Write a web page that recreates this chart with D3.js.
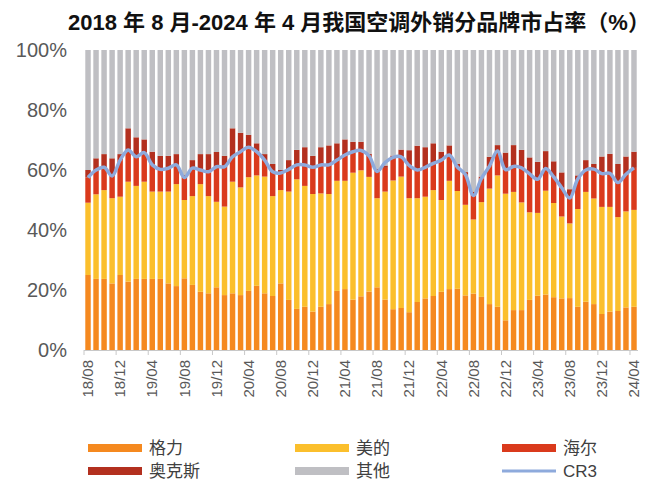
<!DOCTYPE html>
<html><head><meta charset="utf-8">
<script src="https://cdn.jsdelivr.net/npm/d3@7"></script>
<style>
html,body{margin:0;padding:0;background:#fff;}
svg{display:block;font-family:"Liberation Sans",Arial,"Noto Sans CJK SC",sans-serif;}
</style></head><body>
<svg id="c" width="660" height="500"></svg>
<script>
const months = ["18/08","18/09","18/10","18/11","18/12",
"19/01","19/02","19/03","19/04","19/05","19/06","19/07","19/08","19/09","19/10","19/11","19/12",
"20/01","20/02","20/03","20/04","20/05","20/06","20/07","20/08","20/09","20/10","20/11","20/12",
"21/01","21/02","21/03","21/04","21/05","21/06","21/07","21/08","21/09","21/10","21/11","21/12",
"22/01","22/02","22/03","22/04","22/05","22/06","22/07","22/08","22/09","22/10","22/11","22/12",
"23/01","23/02","23/03","23/04","23/05","23/06","23/07","23/08","23/09","23/10","23/11","23/12",
"24/01","24/02","24/03","24/04"];
const gree  = [25,23.7,23.7,22.2,25,22.8,23.7,23.7,23.7,23.7,22.2,21.3,23.9,21.7,19.4,18.9,20.9,18.3,18.9,18.3,19.7,21.4,18.9,18,22.2,16.7,13.7,14.4,12.8,14.4,15.3,19.7,20.3,16.8,17.9,19.5,20.9,16.8,13.6,14,12.6,16,17.2,18,19.4,20.3,20.4,18.2,18.8,17.7,15.3,14.4,9.9,13.3,13.3,16.7,18.1,18.5,17.6,17.2,17.3,14.4,16.1,15.3,12,12.8,13,14.2,14.4];
const midea = [24.1,28.2,29.6,28.4,26.1,33.3,31,32.4,29.1,29.1,30.6,34,26.1,29.6,35.9,32.4,28.5,29.5,37.2,35.9,37.9,36.8,38.9,33.3,31.1,36.1,43.2,40.3,39.2,37.8,36.7,36.7,36.1,42.3,42,38.2,29.7,36,42.9,43.8,38,34.6,33.9,35.3,30.6,36.1,32.6,30.2,24.7,31.6,38.5,43.8,42.2,39.4,35.9,29.2,27.6,34.6,31.4,27.3,24.9,32.6,36.6,35.2,35.7,34.9,31.3,32,32.3];
const haier = [8.4,8.1,7.6,7.4,12.2,10.6,9.7,9.7,8.9,7.4,7.8,6.4,7.5,9.3,4.7,8.1,11.7,13.3,8.3,11.9,10,7.9,5.5,8.1,5.7,7.4,4.8,7,8.9,9.5,9.7,6.9,8.6,7,6.6,7,8.9,7.9,7.5,6.6,10.9,9.4,9.8,8.9,13.3,8.6,8,10.1,8,7.9,7.5,8.1,8,8.5,11.5,12.8,11.2,7.4,8.7,9.6,8.5,10,7.3,9.8,11.1,11.2,11.5,12.4,14];
const aux   = [2.5,3.9,4.4,5.9,2,7.2,6.5,4.4,4.4,4.5,4.1,3.6,0.8,2.7,5.3,5.9,4.9,3.6,9.5,6.3,4.1,2.8,2,2.6,1,3.1,5,5.9,3.8,5.9,6.5,5.6,5.2,3.3,2.9,0.7,0.8,0.8,0.8,2.4,5.1,8.1,6.7,6.7,2.8,3.2,1,0.8,1.3,0.6,3.1,2,5.7,7.1,6,5.5,5.8,5.8,5.2,5.1,2.9,1.2,3.3,1.7,5.7,6.5,6.2,5.9,5.4];
const other = [40,36.1,34.7,36.1,34.7,26.1,29.1,29.8,33.9,35.3,35.3,34.7,41.7,36.7,34.7,34.7,34,35.3,26.1,27.6,28.3,31.1,34.7,38,40,36.7,33.3,32.4,35.3,32.4,31.8,31.1,29.8,30.6,30.6,34.6,39.7,38.5,35.2,33.2,33.4,31.9,32.4,31.1,33.9,31.8,38,40.7,47.2,42.2,35.6,31.7,34.2,31.7,33.3,35.8,37.3,33.7,37.1,40.8,46.4,41.8,36.7,38,35.5,34.6,38,35.5,33.9];
const cr3   = [57.5,60,60.9,58,63.3,66.7,64.4,65.8,61.7,60.2,60.6,61.7,57.5,60.6,60,59.4,61.1,61.1,64.4,66.1,67.6,66.1,63.3,59.4,59,60.2,61.7,61.7,60.9,61.7,61.7,63.3,65,66.1,66.5,64.7,59.5,62.5,64.2,64.4,61.5,60,60.9,62.2,63.3,65,61,58.5,51.5,57.2,61.3,66.3,60.1,61.2,60.7,58.7,56.9,60.5,57.7,54.1,50.7,57,60,60.3,58.8,58.9,55.8,58.6,60.7];
const yTicks = [0,20,40,60,80,100];
const seriesNames = ["格力","美的","海尔","奥克斯","其他"];
const seriesColors = ["#F5891F","#FBBF2C","#DA3A1C","#B3301F","#BFBFC3"];
const lineName = "CR3";
const lineColor = "#8EAADC";
const title = "2018 年 8 月-2024 年 4 月我国空调外销分品牌市占率（%）";

const svg = d3.select("#c");
const L = 84, R = 638, T = 50, B = 350;
const x = d3.scaleBand().domain(months).range([L, R]).paddingInner(0.32).paddingOuter(0.16);
const y = d3.scaleLinear().domain([0, 100]).range([B, T]);

const rows = months.map((m, i) => ({m, 格力: gree[i], 美的: midea[i], 海尔: haier[i], 奥克斯: aux[i], 其他: other[i]}));
const stacked = d3.stack().keys(seriesNames)(rows);

svg.append("g").selectAll("g").data(stacked).join("g")
  .attr("fill", (d, i) => seriesColors[i])
  .selectAll("rect").data(d => d).join("rect")
  .attr("x", d => x(d.data.m))
  .attr("width", x.bandwidth())
  .attr("y", d => y(Math.min(100, d[1])))
  .attr("height", d => y(d[0]) - y(Math.min(100, d[1])));

// CR3 line
svg.append("path")
  .datum(cr3)
  .attr("fill", "none")
  .attr("stroke", lineColor)
  .attr("stroke-width", 3.5)
  .attr("stroke-linejoin", "round")
  .attr("d", d3.line().x((d, i) => x(months[i]) + x.bandwidth() / 2).y(d => y(d)).curve(d3.curveCatmullRom.alpha(0.5)));

// Y axis labels
const ya = svg.append("g").attr("transform", `translate(${L - 14},0)`)
  .call(d3.axisLeft(y).tickValues(yTicks).tickFormat(d => d + "%").tickSize(0));
ya.select(".domain").remove();
ya.selectAll("text").attr("font-size", 20).attr("fill", "#595959")
  .attr("font-family", "'Liberation Sans',Arial,sans-serif").attr("dx", 0);

// X axis
const step = x.step();
const xa = svg.append("g").attr("transform", `translate(0,${B})`)
  .call(d3.axisBottom(x).tickValues(months.filter((m, i) => i % 4 === 0)).tickSize(0));
xa.select(".domain").attr("stroke", "#c8c8c8").attr("d", `M${L},0.5H${R}`);
xa.selectAll(".tick text")
  .attr("font-size", 15).attr("fill", "#595959")
  .attr("font-family", "'Liberation Sans',Arial,sans-serif")
  .attr("transform", "rotate(-90)")
  .attr("text-anchor", "end")
  .attr("x", -10).attr("y", 0).attr("dy", "0.35em");
// tick marks at category boundaries
svg.append("g").selectAll("line")
  .data(months.filter((m, i) => i % 4 === 0))
  .join("line")
  .attr("x1", m => x(m) - step * x.paddingInner() / 2)
  .attr("x2", m => x(m) - step * x.paddingInner() / 2)
  .attr("y1", B).attr("y2", B + 5)
  .attr("stroke", "#c8c8c8");

// Title
svg.append("text").attr("x", 68).attr("y", 30)
  .attr("font-size", 22).attr("font-weight", "bold").attr("fill", "#111")
  .text(title);

// Legend
const legendItems = seriesNames.map((n, i) => ({n, c: seriesColors[i], line: false}));
legendItems.push({n: lineName, c: lineColor, line: true});
const colX = [88, 295, 502];
const rowY = [448, 471];
const lg = svg.append("g");
legendItems.forEach((it, k) => {
  const cx = colX[k % 3], cy = rowY[Math.floor(k / 3)];
  if (it.line) {
    lg.append("line").attr("x1", cx).attr("x2", cx + 54).attr("y1", cy).attr("y2", cy)
      .attr("stroke", it.c).attr("stroke-width", 3);
  } else {
    lg.append("rect").attr("x", cx).attr("y", cy - 4).attr("width", 54).attr("height", 8).attr("fill", it.c);
  }
  lg.append("text").attr("x", cx + 61).attr("y", cy).attr("dy", "0.36em")
    .attr("font-size", 17).attr("fill", "#404040").text(it.n);
});
</script>
</body></html>
